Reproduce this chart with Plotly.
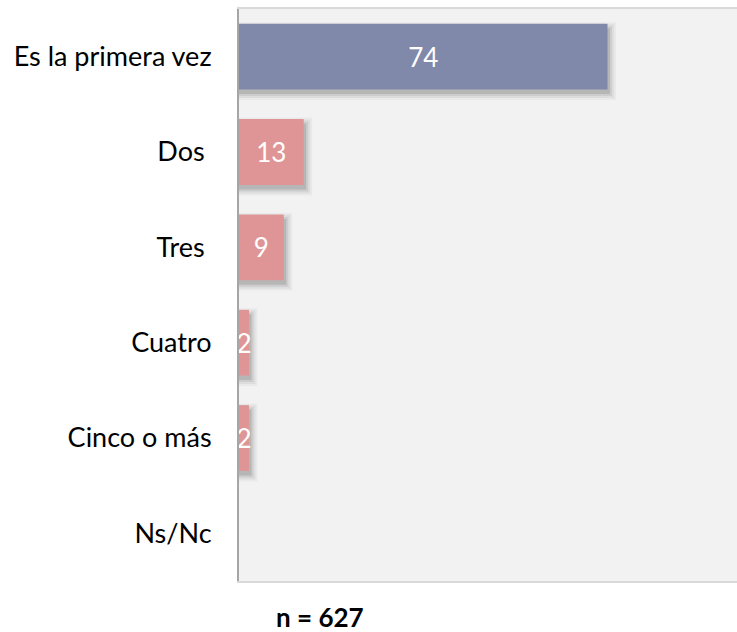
import plotly.graph_objects as go

categories = ["Es la primera vez", "Dos\u00a0", "Tres\u00a0", "Cuatro", "Cinco o más", "Ns/Nc"]
values = [74, 13, 9, 2, 2, 0]
bar_colors = ["#8089aa", "#df9595", "#df9595", "#df9595", "#df9595", "#df9595"]
value_labels = [str(v) if v > 0 else "" for v in values]
footnote = "n = 627"

FONT = "Lato"
W = 0.69
PX_X = 498 / 100      # pixels per x unit
PX_Y = 572 / 6        # pixels per category

fig = go.Figure()
# soft drop shadows (stacked translucent layers approximate a blur)
for e, a in [(6, 0.035), (4, 0.05), (2, 0.07), (0, 0.11)]:
    sx, sy = 2.5, 4.5
    fig.add_trace(go.Bar(
        y=categories,
        x=[(v + (sx + e) / PX_X) if v > 0 else 0 for v in values],
        orientation="h",
        width=W + 2 * e / PX_Y,
        offset=-W / 2 + (sy - e) / PX_Y,
        marker=dict(color=f"rgba(0,0,0,{a})", line=dict(width=0)),
        hoverinfo="skip", showlegend=False,
    ))
fig.add_trace(go.Bar(
    y=categories, x=values, orientation="h", width=W, offset=-W / 2,
    marker=dict(color=bar_colors, line=dict(width=0)),
    text=value_labels, textposition="inside", insidetextanchor="middle",
    constraintext="none", cliponaxis=False,
    textfont=dict(family=FONT, size=26, color="white"),
    showlegend=False,
))

fig.update_layout(
    width=737, height=632,
    margin=dict(l=239, r=0, t=9, b=51),
    paper_bgcolor="white", plot_bgcolor="#f2f2f2",
    barmode="overlay",
    font=dict(family=FONT, size=26, color="black"),
    xaxis=dict(range=[0, 100], showgrid=False, zeroline=False, showticklabels=False,
               showline=True, mirror=True, linecolor="#d9d9d9", linewidth=1.5, ticks=""),
    yaxis=dict(autorange="reversed", showgrid=False, zeroline=False,
               showline=True, linecolor="#a6a6a6", linewidth=2,
               ticks="outside", ticklen=20, tickcolor="rgba(0,0,0,0)",
               tickfont=dict(family=FONT, size=27, color="black")),
    annotations=[dict(text=f"<b>{footnote}</b>", xref="paper", yref="paper",
                      x=(320 - 239) / (737 - 239), y=-(617 - 581) / (581 - 9),
                      xanchor="center", yanchor="middle", showarrow=False,
                      font=dict(family=FONT, size=26, color="black"))],
)
fig.write_html("out.html", config={"displayModeBar": False},
               post_script="document.body.style.margin='0';document.body.style.overflow='hidden';")
